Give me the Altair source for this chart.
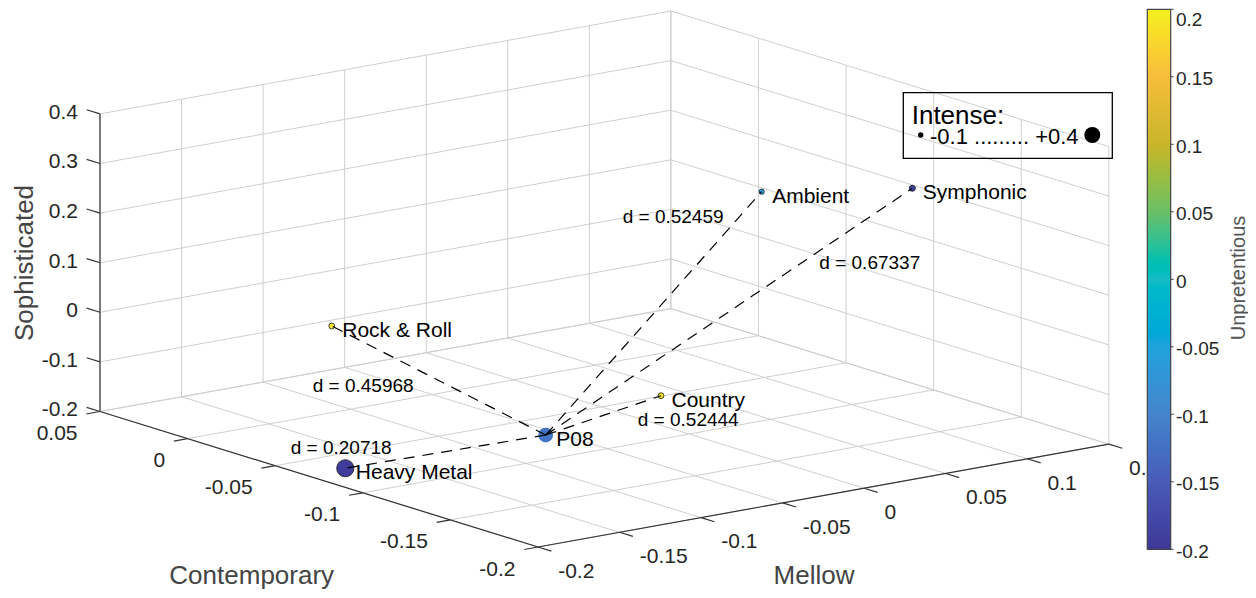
import altair as alt
import pandas as pd
import numpy as np

# ---------------- data ----------------
names = ["P08", "Heavy Metal", "Rock & Roll", "Country", "Ambient", "Symphonic"]
contemporary = [-0.1289, -0.0793, -0.0147, -0.1073, -0.0641, -0.1207]
mellow = [-0.1189, -0.1885, -0.1274, -0.0250, 0.0831, 0.1147]
sophisticated = [-0.10, -0.18, 0.00, -0.10, 0.20, 0.25]
unpretentious = [-0.12, -0.195, 0.19, 0.19, -0.06, -0.185]
intense = [0.316, 0.49, -0.087, -0.087, -0.10, -0.08]

dist_targets = ["Heavy Metal", "Rock & Roll", "Country", "Ambient", "Symphonic"]
dist_values = ["0.20718", "0.45968", "0.52444", "0.52459", "0.67337"]

c_ticks = [-0.2, -0.15, -0.1, -0.05, 0.0, 0.05]
c_labels = ["-0.2", "-0.15", "-0.1", "-0.05", "0", "0.05"]
m_ticks = [-0.2, -0.15, -0.1, -0.05, 0.0, 0.05, 0.1, 0.15]
m_labels = ["-0.2", "-0.15", "-0.1", "-0.05", "0", "0.05", "0.1", "0.15"]
z_ticks = [-0.2, -0.1, 0.0, 0.1, 0.2, 0.3, 0.4]
z_labels = ["-0.2", "-0.1", "0", "0.1", "0.2", "0.3", "0.4"]
cb_ticks = [-0.2, -0.15, -0.1, -0.05, 0.0, 0.05, 0.1, 0.15, 0.2]
cb_labels = ["-0.2", "-0.15", "-0.1", "-0.05", "0", "0.05", "0.1", "0.15", "0.2"]
intense_legend = [-0.1, 0.4]

# parula-like colormap as seen in the picture
cmap_domain = [-0.2, -0.15, -0.1, -0.05, 0.0, 0.05, 0.1, 0.15, 0.2]
cmap_colors = ["#3e3898", "#4a5bb8", "#4684cc", "#1fa3dc", "#16bcc4",
               "#6abf66", "#c9b52c", "#f7bd3c", "#f4f020"]

# ---------------- layout (pixels) ----------------
W, H, M0 = 1240, 582, 8
ORIG = (513.8, 280.6)
VC = (-1752.0, -542.0)
VM = (1631.0, -294.0)
VZ = (0.0, -496.0)
C_LIM, M_LIM, Z_LIM = (-0.2, 0.05), (-0.2, 0.15), (-0.2, 0.4)
TICK_LEN = 14
FONT = "Liberation Sans"
CB = dict(x0=1147.3, x1=1170.7, y0=9.3, y1=549.3)
DLAB_OFF = {"Heavy Metal": (-154.8, 2.4), "Rock & Roll": (-126.0, 11.2),
            "Country": (34.4, 10.6), "Ambient": (-31.0, -90.0),
            "Symphonic": (90.3, -42.4)}


def proj(c, m, z):
    return (ORIG[0] + c * VC[0] + m * VM[0] + z * VZ[0],
            ORIG[1] + c * VC[1] + m * VM[1] + z * VZ[1])


def seg(p, q):
    a, b = proj(*p), proj(*q)
    return dict(x=a[0], y=a[1], x2=b[0], y2=b[1])


def unit(v, s=1.0):
    n = np.hypot(*v)
    return (s * v[0] / n, s * v[1] / n)


XS = alt.Scale(domain=[M0, M0 + W], nice=False, zero=False)
YS = alt.Scale(domain=[M0, M0 + H], nice=False, zero=False, reverse=True)
X = alt.X("x:Q", scale=XS, axis=None)
Y = alt.Y("y:Q", scale=YS, axis=None)
COLOR = alt.Color("u:Q", scale=alt.Scale(domain=cmap_domain, range=cmap_colors), legend=None)
SIZE = alt.Size("s:Q", scale=alt.Scale(domain=[-0.1, 0.4], range=[28.3, 254.5], zero=False), legend=None)

# grid
g = []
zf = Z_LIM[0]
for c in c_ticks:
    g.append(seg((c, M_LIM[0], zf), (c, M_LIM[1], zf)))
    g.append(seg((c, M_LIM[1], Z_LIM[0]), (c, M_LIM[1], Z_LIM[1])))
for m in m_ticks:
    g.append(seg((C_LIM[0], m, zf), (C_LIM[1], m, zf)))
    g.append(seg((C_LIM[1], m, Z_LIM[0]), (C_LIM[1], m, Z_LIM[1])))
for z in z_ticks:
    g.append(seg((C_LIM[1], M_LIM[0], z), (C_LIM[1], M_LIM[1], z)))
    g.append(seg((C_LIM[0], M_LIM[1], z), (C_LIM[1], M_LIM[1], z)))
grid = pd.DataFrame(g)

# axes lines
ax = pd.DataFrame([
    seg((C_LIM[1], M_LIM[0], zf), (C_LIM[0], M_LIM[0], zf)),
    seg((C_LIM[0], M_LIM[0], zf), (C_LIM[0], M_LIM[1], zf)),
    seg((C_LIM[1], M_LIM[0], Z_LIM[0]), (C_LIM[1], M_LIM[0], Z_LIM[1])),
])

# ticks + labels
ticks, labs = [], []
dm = unit((-VM[0], -VM[1]), TICK_LEN)
dc_neg = unit((-VC[0], -VC[1]), TICK_LEN)
dc_pos = unit((VC[0], VC[1]), TICK_LEN)
for c, lab in zip(c_ticks, c_labels):
    x, y = proj(c, M_LIM[0], zf)
    ticks.append(dict(x=x, y=y, x2=x + dm[0], y2=y + dm[1]))
    labs.append(dict(x=x - 22.5, y=y + 28.5, t=lab, a="right"))
for m, lab in zip(m_ticks, m_labels):
    x, y = proj(C_LIM[0], m, zf)
    ticks.append(dict(x=x, y=y, x2=x + dc_neg[0], y2=y + dc_neg[1]))
    labs.append(dict(x=x + 20.2, y=y + 30.8, t=lab, a="left"))
for z, lab in zip(z_ticks, z_labels):
    x, y = proj(C_LIM[1], M_LIM[0], z)
    ticks.append(dict(x=x, y=y, x2=x + dc_pos[0], y2=y + dc_pos[1]))
    labs.append(dict(x=x - 22, y=y + 4.9, t=lab, a="right"))
ticks = pd.DataFrame(ticks)
labs = pd.DataFrame(labs)

# points
pts = pd.DataFrame(dict(name=names, C=contemporary, M=mellow, Z=sophisticated,
                        u=unpretentious, s=intense))
pts["x"] = [proj(c, m, z)[0] for c, m, z in zip(pts.C, pts.M, pts.Z)]
pts["y"] = [proj(c, m, z)[1] for c, m, z in zip(pts.C, pts.M, pts.Z)]
p0 = pts[pts.name == "P08"].iloc[0]

lines, dlabs = [], []
for tname, dv in zip(dist_targets, dist_values):
    r = pts[pts.name == tname].iloc[0]
    lines.append(dict(x=p0.x, y=p0.y, x2=r.x, y2=r.y))
    mx, my = (p0.x + r.x) / 2, (p0.y + r.y) / 2
    ox, oy = DLAB_OFF[tname]
    dlabs.append(dict(x=mx + ox, y=my + oy, t=f"d = {dv}"))
lines = pd.DataFrame(lines)
dlabs = pd.DataFrame(dlabs)

grid_l = alt.Chart(grid).mark_rule(color="#cfcfcf", strokeWidth=1).encode(X, Y, x2="x2:Q", y2="y2:Q")
ax_l = alt.Chart(ax).mark_rule(color="#333333", strokeWidth=1.2).encode(X, Y, x2="x2:Q", y2="y2:Q")
tick_l = alt.Chart(ticks).mark_rule(color="#333333", strokeWidth=1.2).encode(X, Y, x2="x2:Q", y2="y2:Q")
labl_r = alt.Chart(labs[labs.a == "right"]).mark_text(align="right", baseline="alphabetic", font=FONT,
                                                     fontSize=21, color="#262626").encode(X, Y, text="t:N")
labl_l = alt.Chart(labs[labs.a == "left"]).mark_text(align="left", baseline="alphabetic", font=FONT,
                                                    fontSize=21, color="#262626").encode(X, Y, text="t:N")

titles = pd.DataFrame([
    dict(x=251.7, y=584.0, t="Contemporary"),
    dict(x=814.0, y=583.5, t="Mellow"),
])
title_l = alt.Chart(titles).mark_text(align="center", baseline="alphabetic", font=FONT, fontSize=26,
                                      color="#444444").encode(X, Y, text="t:N")
soph_l = alt.Chart(pd.DataFrame([dict(x=33.0, y=263.0, t="Sophisticated")])).mark_text(
    align="center", baseline="alphabetic", font=FONT, fontSize=26, angle=270, color="#444444"
).encode(X, Y, text="t:N")

dots_g = alt.Chart(pts[pts.name != "P08"]).mark_circle(opacity=1, stroke="#1a1a1a", strokeWidth=0.8).encode(
    X, Y, COLOR, SIZE)
dots_p = alt.Chart(pts[pts.name == "P08"]).mark_circle(opacity=1).encode(X, Y, COLOR, SIZE)
lines_l = alt.Chart(lines).mark_rule(color="black", strokeWidth=1.2, strokeDash=[11, 8]).encode(
    X, Y, x2="x2:Q", y2="y2:Q")

plabs = pts.copy()
plabs["x"] = plabs.x + 10.5
plabs["y"] = plabs.y + 10.8
plab_l = alt.Chart(plabs).mark_text(align="left", baseline="alphabetic", font=FONT, fontSize=21,
                                    color="black").encode(X, Y, text="name:N")
dlab_l = alt.Chart(dlabs).mark_text(align="left", baseline="alphabetic", font=FONT, fontSize=19,
                                    color="black").encode(X, Y, text="t:N")

# Intense legend
leg_box = alt.Chart(pd.DataFrame([dict(x=903.3, y=92.7, x2=1112.3, y2=158.3)])).mark_rect(
    fill=None, stroke="black", strokeWidth=1.3).encode(X, Y, x2="x2:Q", y2="y2:Q")
leg_dots = alt.Chart(pd.DataFrame(dict(x=[920.7, 1092.3], y=[135.0, 135.0], s=intense_legend))).mark_circle(
    opacity=1, color="black").encode(X, Y, SIZE)
leg_txt = alt.Chart(pd.DataFrame([
    dict(x=911.7, y=123.5, t="Intense:", f=26),
    dict(x=930.0, y=143.8, t="-0.1 ......... +0.4", f=22),
])).mark_text(align="left", baseline="alphabetic", font=FONT, color="black").encode(
    X, Y, text="t:N", size=alt.Size("f:Q", scale=None))

# colorbar
nb = 240
vals = np.linspace(-0.2, 0.2, nb + 1)


def cb_y(v):
    return CB["y0"] + (0.2 - v) / 0.4 * (CB["y1"] - CB["y0"])


bands = pd.DataFrame(dict(x=CB["x0"], x2=CB["x1"], y=[cb_y(v) for v in vals[:-1]],
                          y2=[max(cb_y(v) - 1.2, CB["y0"]) for v in vals[1:]],
                          u=(vals[:-1] + vals[1:]) / 2))
cb_band = alt.Chart(bands).mark_rect(strokeWidth=0).encode(X, Y, x2="x2:Q", y2="y2:Q", color=COLOR)
cb_frame = alt.Chart(pd.DataFrame([dict(x=CB["x0"], y=CB["y0"], x2=CB["x1"], y2=CB["y1"])])).mark_rect(
    fill=None, stroke="#444444", strokeWidth=1.2).encode(X, Y, x2="x2:Q", y2="y2:Q")
cbt = pd.DataFrame(dict(v=cb_ticks, t=cb_labels))
cbt["y"] = [cb_y(v) for v in cbt.v]
cbt["x"] = CB["x1"]
cbt["x2"] = CB["x1"] + 3
cbt["y2"] = cbt["y"]
cbt["lx"] = 1176.0
cbt["ly"] = [max(yy + 8.5, 25.5) for yy in cbt["y"]]
cb_ticks_l = alt.Chart(cbt).mark_rule(color="#444444", strokeWidth=1).encode(X, Y, x2="x2:Q", y2="y2:Q")
cb_lab_l = alt.Chart(cbt).mark_text(align="left", baseline="alphabetic", font=FONT, fontSize=19,
                                    color="#262626").encode(
    x=alt.X("lx:Q", scale=XS, axis=None), y=alt.Y("ly:Q", scale=YS, axis=None), text="t:N")
cb_title = alt.Chart(pd.DataFrame([dict(x=1245.0, y=278.0, t="Unpretentious")])).mark_text(
    align="center", baseline="alphabetic", font=FONT, fontSize=20, angle=270, color="#555555"
).encode(X, Y, text="t:N")

chart = alt.layer(
    grid_l, ax_l, tick_l, labl_r, labl_l, title_l, soph_l,
    dots_g, dots_p, lines_l, plab_l, dlab_l,
    leg_box, leg_dots, leg_txt,
    cb_band, cb_frame, cb_ticks_l, cb_lab_l, cb_title,
).properties(width=W, height=H, padding=0, autosize="none", background="white"
).configure_view(stroke=None)

chart.save("out.html", embed_options={"renderer": "svg", "actions": False})
